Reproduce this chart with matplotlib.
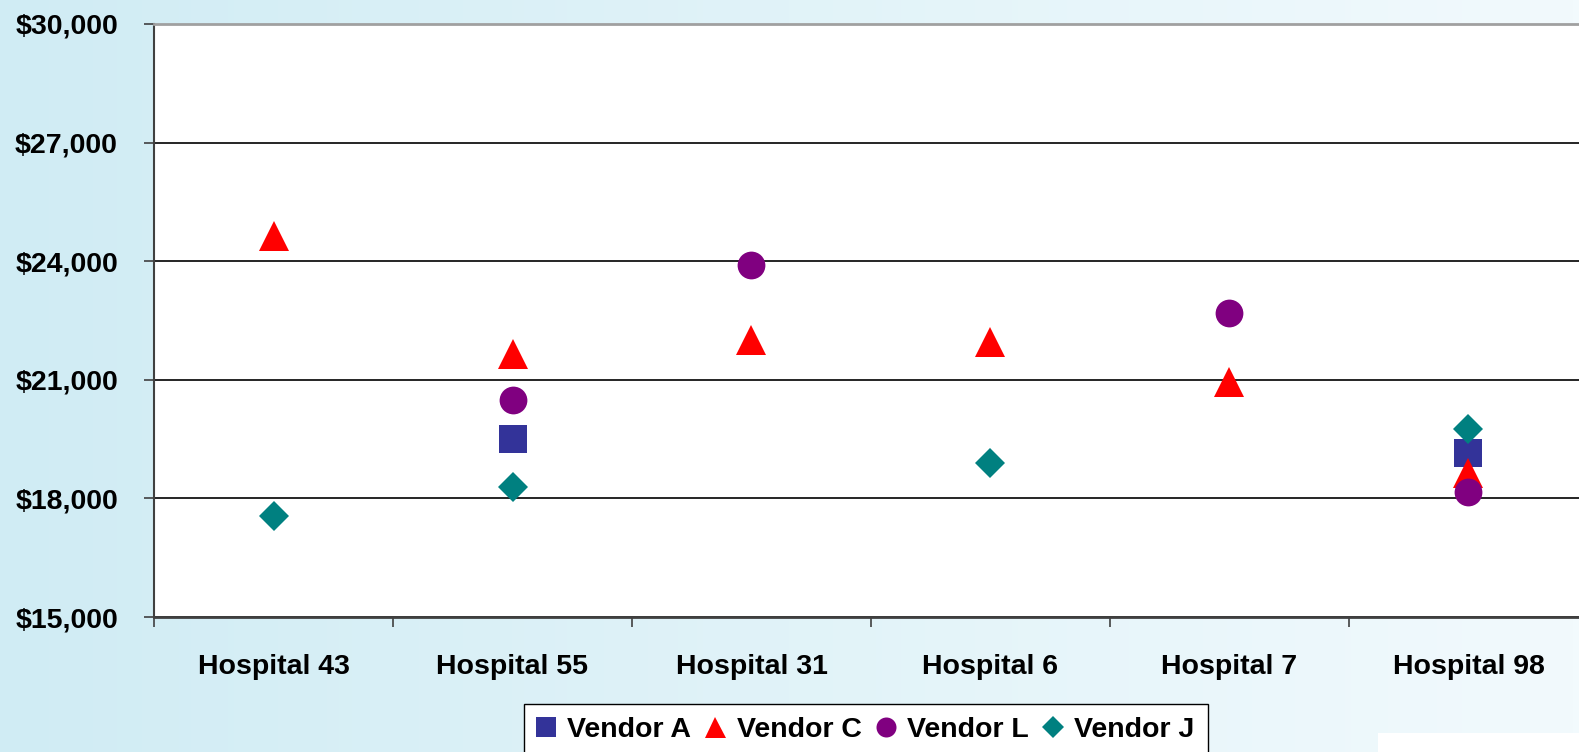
import numpy as np
import matplotlib.pyplot as plt
from matplotlib.ticker import FuncFormatter, FixedLocator
from matplotlib.patches import Rectangle

hospitals = ["Hospital 43", "Hospital 55", "Hospital 31", "Hospital 6", "Hospital 7", "Hospital 98"]

# cost per vendor, None where the vendor has no price at that hospital
vendor_a = [None, 19500, None, None, None, 19150]
vendor_c = [24650, 21650, 22000, 21950, 20950, 18650]
vendor_l = [None, 20500, 23900, None, 22700, 18150]
vendor_j = [17550, 18300, None, 18900, None, 19750]

series = [
    ("Vendor A", vendor_a, "s", "#333399", 20),
    ("Vendor C", vendor_c, "^", "#ff0000", 21),
    ("Vendor L", vendor_l, "o", "#800080", 20),
    ("Vendor J", vendor_j, "D", "#008080", 15),
]

plt.rcParams['font.family'] = ['Liberation Sans', 'DejaVu Sans']
plt.rcParams['font.weight'] = 'bold'

fig = plt.figure(figsize=(15.79, 7.52), dpi=100)

# light blue gradient background
bg = fig.add_axes([0, 0, 1, 1], zorder=-10)
grad = np.linspace(0, 1, 256).reshape(1, -1)
left = np.array([208, 236, 244]) / 255
right = np.array([242, 250, 253]) / 255
img = left[None, None, :] * (1 - grad[..., None]) + right[None, None, :] * grad[..., None]
bg.imshow(img, aspect='auto', extent=[0, 1, 0, 1])
bg.add_patch(Rectangle((1378 / 1579, 0), 1, 19 / 752, color='white', lw=0))
bg.set_xlim(0, 1)
bg.set_ylim(0, 1)
bg.axis('off')

ax = fig.add_axes([154 / 1579, 1 - 617 / 752, 1434 / 1579, 593 / 752])
ax.set_facecolor('white')

x = np.arange(len(hospitals))
for name, vals, mk, col, ms in series:
    xs = [xi for xi, v in zip(x, vals) if v is not None]
    ys = [v for v in vals if v is not None]
    ax.plot(xs, ys, linestyle='none', marker=mk, color=col, markersize=ms,
            markeredgewidth=0, label=name, zorder=3)

ax.set_ylim(15000, 30000)
ax.set_yticks(np.arange(15000, 30001, 3000))
ax.yaxis.set_major_formatter(FuncFormatter(lambda v, p: "${:,.0f}".format(v)))
ax.grid(axis='y', color='black', linewidth=1.2, zorder=1)

ax.set_xlim(-0.5, len(hospitals) - 0.5)
ax.set_xticks(x)
ax.set_xticklabels(hospitals)
ax.xaxis.set_minor_locator(FixedLocator(np.arange(-0.5, len(hospitals), 1)))
ax.tick_params(axis='x', which='major', length=0, pad=27, labelsize=20.5)
ax.tick_params(axis='x', which='minor', length=7, width=1.2, color='#404040')
ax.tick_params(axis='y', length=7, width=1.2, color='#404040', pad=19, labelsize=20.5)

for lab in ax.get_xticklabels() + ax.get_yticklabels():
    lab.set_fontweight('bold')

ax.spines['top'].set_color('#a0a0a0')
ax.spines['top'].set_linewidth(2)
ax.spines['right'].set_visible(False)
ax.spines['left'].set_color('#404040')
ax.spines['left'].set_linewidth(1.5)
ax.spines['bottom'].set_color('#404040')
ax.spines['bottom'].set_linewidth(2)

leg = fig.legend(loc='upper center', bbox_to_anchor=(866 / 1579, 1 - 704 / 752), ncol=4,
                 markerscale=0.72, handlelength=0.6, handletextpad=0.45,
                 columnspacing=0.55, borderpad=0.45, borderaxespad=0, fancybox=False,
                 framealpha=1, edgecolor='black', prop={'weight': 'bold', 'size': 20.5})
leg.get_frame().set_linewidth(1)

fig.savefig("out.png", dpi=100)
